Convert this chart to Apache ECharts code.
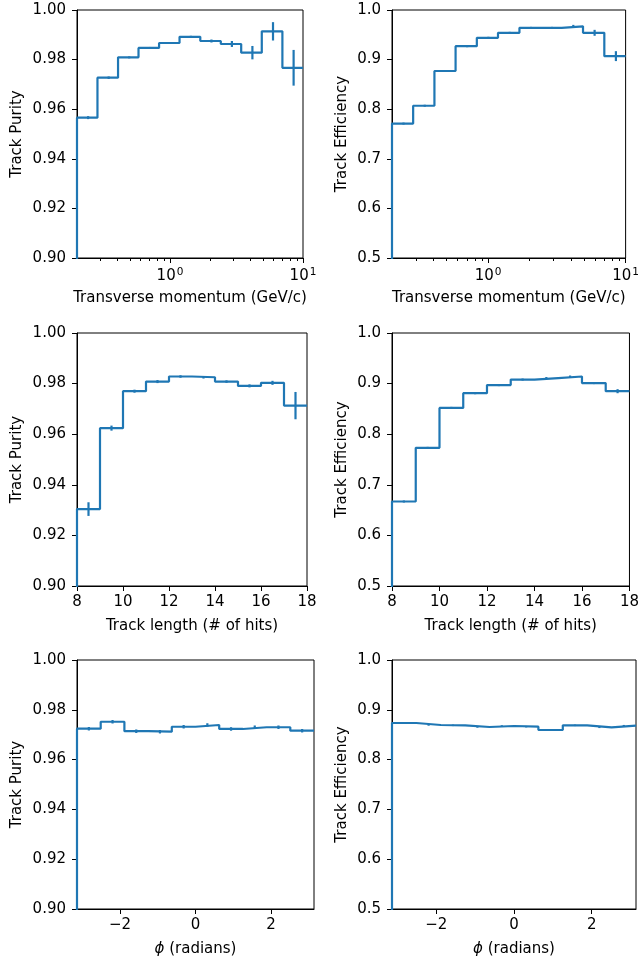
<!DOCTYPE html>
<html>
<head>
<meta charset="utf-8">
<script src="https://cdn.jsdelivr.net/npm/echarts@6/dist/echarts.min.js"></script>
<style>
  html, body { margin: 0; padding: 0; background: #fff; }
  #chart { width: 642px; height: 959px; }
</style>
</head>
<body>
<div id="chart"></div>
<script>
const LINE_COLOR = '#1f77b4';
const FONT = 'DejaVu Sans';

// transverse momentum bins (GeV/c), log spaced
const PT_EDGES = [0.2, 0.285, 0.407, 0.580, 0.828, 1.18, 1.69, 2.41, 3.43, 4.90, 7.0, 10];
const PT_PURITY = [0.9566, 0.9727, 0.9809, 0.9847, 0.9867, 0.9892, 0.9875, 0.9863, 0.9828, 0.9914, 0.9767];
const PT_PURITY_ERR = [0.0006, 0.0005, 0.0004, 0.0004, 0.0004, 0.0004, 0.0006, 0.0012, 0.0027, 0.0037, 0.0072];
const PT_EFF = [0.771, 0.807, 0.877, 0.927, 0.944, 0.954, 0.964, 0.964, 0.967, 0.954, 0.907];
const PT_EFF_ERR = [0.002, 0.002, 0.002, 0.002, 0.002, 0.002, 0.002, 0.002, 0.003, 0.006, 0.010];
const PT_TICKS = [1, 10];
const PT_MINOR_TICKS = [0.3, 0.4, 0.5, 0.6, 0.7, 0.8, 0.9, 2, 3, 4, 5, 6, 7, 8, 9];

// track length bins (# of hits)
const LEN_EDGES = [8, 9, 10, 11, 12, 13, 14, 15, 16, 17, 18];
const LEN_PURITY = [0.9304, 0.9624, 0.9770, 0.9808, 0.9828, 0.9825, 0.9808, 0.9791, 0.9803, 0.9713];
const LEN_PURITY_ERR = [0.0027, 0.0010, 0.0006, 0.0006, 0.0005, 0.0005, 0.0005, 0.0006, 0.0008, 0.0054];
const LEN_EFF = [0.667, 0.773, 0.852, 0.881, 0.897, 0.908, 0.911, 0.914, 0.901, 0.885];
const LEN_EFF_ERR = [0.002, 0.002, 0.002, 0.002, 0.002, 0.002, 0.002, 0.002, 0.002, 0.004];

// phi bins (radians)
const PHI_EDGES = [-3.1416, -2.5133, -1.8850, -1.2566, -0.6283, 0, 0.6283, 1.2566, 1.8850, 2.5133, 3.1416];
const PHI_PURITY = [0.9724, 0.9752, 0.9714, 0.9712, 0.9732, 0.9739, 0.9723, 0.9730, 0.9730, 0.9716];
const PHI_PURITY_ERR = [0.0007, 0.0007, 0.0007, 0.0007, 0.0007, 0.0007, 0.0007, 0.0007, 0.0007, 0.0007];
const PHI_EFF = [0.8735, 0.8695, 0.8688, 0.8655, 0.8675, 0.8661, 0.8594, 0.8688, 0.8648, 0.8681];
const PHI_EFF_ERR = [0.0015, 0.0015, 0.0015, 0.0015, 0.0015, 0.0015, 0.0015, 0.0015, 0.0015, 0.0015];
const PHI_TICKS = [-2, 0, 2];

//histtype='step' style outline, starts from 0 on the left edge
function stepPoints(edges, values) {
  let pts = [[edges[0], 0]];
  for (let i = 0; i < values.length; i++) {
    pts.push([edges[i], values[i]]);
    pts.push([edges[i + 1], values[i]]);
  }
  return pts;
}

function errPoints(edges, values, errs) {
  return values.map((v, i) => [(edges[i] + edges[i + 1]) / 2, v, errs[i]]);
}

function renderErr(params, api) {
  const lo = api.coord([api.value(0), api.value(1) - api.value(2)]);
  const hi = api.coord([api.value(0), api.value(1) + api.value(2)]);
  return {
    type: 'line',
    shape: { x1: lo[0], y1: lo[1], x2: hi[0], y2: hi[1] },
    style: { stroke: LINE_COLOR, lineWidth: 2.2 }
  };
}

const tickLabel = { color: '#000', fontSize: 15, fontFamily: FONT };
const nameStyle = { color: '#000', fontSize: 15, fontFamily: FONT };

const panels = [
  { box: { left: 77, top: 10, width: 226, height: 248 }, x: 'pt', edges: PT_EDGES, vals: PT_PURITY, errs: PT_PURITY_ERR, y: 'purity', yGap: 52 },
  { box: { left: 392, top: 10, width: 237, height: 248 }, x: 'pt', edges: PT_EDGES, vals: PT_EFF, errs: PT_EFF_ERR, y: 'eff', yGap: 42 },
  { box: { left: 77, top: 333, width: 230, height: 253 }, x: 'len', edges: LEN_EDGES, vals: LEN_PURITY, errs: LEN_PURITY_ERR, y: 'purity', yGap: 52 },
  { box: { left: 392, top: 333, width: 241, height: 253 }, x: 'len', edges: LEN_EDGES, vals: LEN_EFF, errs: LEN_EFF_ERR, y: 'eff', yGap: 42 },
  { box: { left: 77, top: 660, width: 237, height: 249 }, x: 'phi', edges: PHI_EDGES, vals: PHI_PURITY, errs: PHI_PURITY_ERR, y: 'purity', yGap: 52 },
  { box: { left: 392, top: 660, width: 244, height: 249 }, x: 'phi', edges: PHI_EDGES, vals: PHI_EFF, errs: PHI_EFF_ERR, y: 'eff', yGap: 42 }
];

let grid = [], xAxis = [], yAxis = [], series = [];

panels.forEach((p, i) => {
  grid.push(Object.assign({ show: true, borderColor: '#000', borderWidth: 1, backgroundColor: 'transparent' }, p.box));

  const base = {
    gridIndex: i,
    position: 'bottom',
    nameLocation: 'middle',
    nameGap: 33,
    nameTextStyle: nameStyle,
    axisLine: { show: true, onZero: false, lineStyle: { color: '#000', width: 1 } },
    axisTick: { show: true, length: 5, lineStyle: { color: '#000' } },
    splitLine: { show: false },
    axisLabel: Object.assign({ margin: 9 }, tickLabel)
  };

  let ax;
  if (p.x == 'pt') {
    ax = Object.assign({}, base, {
      type: 'log', logBase: 10, min: 0.2, max: 10,
      name: 'Transverse momentum (GeV/c)'
    });
    ax.axisTick = Object.assign({}, base.axisTick, { customValues: PT_TICKS });
    ax.axisLabel = Object.assign({}, base.axisLabel, {
      customValues: PT_TICKS,
      formatter: v => '10{s|' + Math.round(Math.log10(v)) + '}',
      rich: { s: { fontSize: 10.5, fontFamily: FONT, color: '#000', padding: [0, 0, 8, 1] } }
    });
  } else if (p.x == 'len') {
    ax = Object.assign({}, base, {
      type: 'value', min: 8, max: 18, interval: 2,
      name: 'Track length (# of hits)'
    });
  } else {
    ax = Object.assign({}, base, {
      type: 'value', min: PHI_EDGES[0], max: PHI_EDGES[PHI_EDGES.length - 1],
      name: '{i|ϕ} (radians)'
    });
    ax.nameTextStyle = Object.assign({}, nameStyle, {
      rich: { i: { fontSize: 15, fontStyle: 'italic', fontFamily: FONT, color: '#000' } }
    });
    ax.axisTick = Object.assign({}, base.axisTick, { customValues: PHI_TICKS });
    ax.axisLabel = Object.assign({}, base.axisLabel, {
      customValues: PHI_TICKS,
      formatter: v => (v < 0 ? '\u2212' + Math.abs(v) : '' + v)
    });
  }
  const xIdx = xAxis.length;
  xAxis.push(ax);

  //log轴的次刻度，单独一根轴画
  if (p.x == 'pt') {
    xAxis.push({
      gridIndex: i, position: 'bottom', type: 'log', logBase: 10, min: 0.2, max: 10,
      axisLine: { show: false },
      axisTick: { show: true, length: 3, customValues: PT_MINOR_TICKS, lineStyle: { color: '#000' } },
      axisLabel: { show: false },
      splitLine: { show: false }
    });
  }

  const isPurity = p.y == 'purity';
  yAxis.push({
    gridIndex: i,
    type: 'value',
    min: isPurity ? 0.9 : 0.5,
    max: 1.0,
    interval: isPurity ? 0.02 : 0.1,
    name: isPurity ? 'Track Purity' : 'Track Efficiency',
    nameLocation: 'middle',
    nameGap: p.yGap,
    nameTextStyle: nameStyle,
    axisLine: { show: true, onZero: false, lineStyle: { color: '#000', width: 1 } },
    axisTick: { show: true, length: 5, lineStyle: { color: '#000' } },
    splitLine: { show: false },
    axisLabel: Object.assign({ margin: 11, formatter: v => v.toFixed(isPurity ? 2 : 1) }, tickLabel)
  });

  series.push({
    type: 'line',
    xAxisIndex: xIdx,
    yAxisIndex: i,
    data: stepPoints(p.edges, p.vals),
    symbol: 'none',
    clip: true,
    lineStyle: { color: LINE_COLOR, width: 2.2 },
    animation: false
  });
  series.push({
    type: 'custom',
    xAxisIndex: xIdx,
    yAxisIndex: i,
    data: errPoints(p.edges, p.vals, p.errs),
    renderItem: renderErr,
    clip: true,
    animation: false
  });
});

const chart = echarts.init(document.getElementById('chart'), null, { renderer: 'canvas' });
chart.setOption({
  animation: false,
  textStyle: { fontFamily: FONT },
  grid: grid,
  xAxis: xAxis,
  yAxis: yAxis,
  series: series
});
</script>
</body>
</html>
